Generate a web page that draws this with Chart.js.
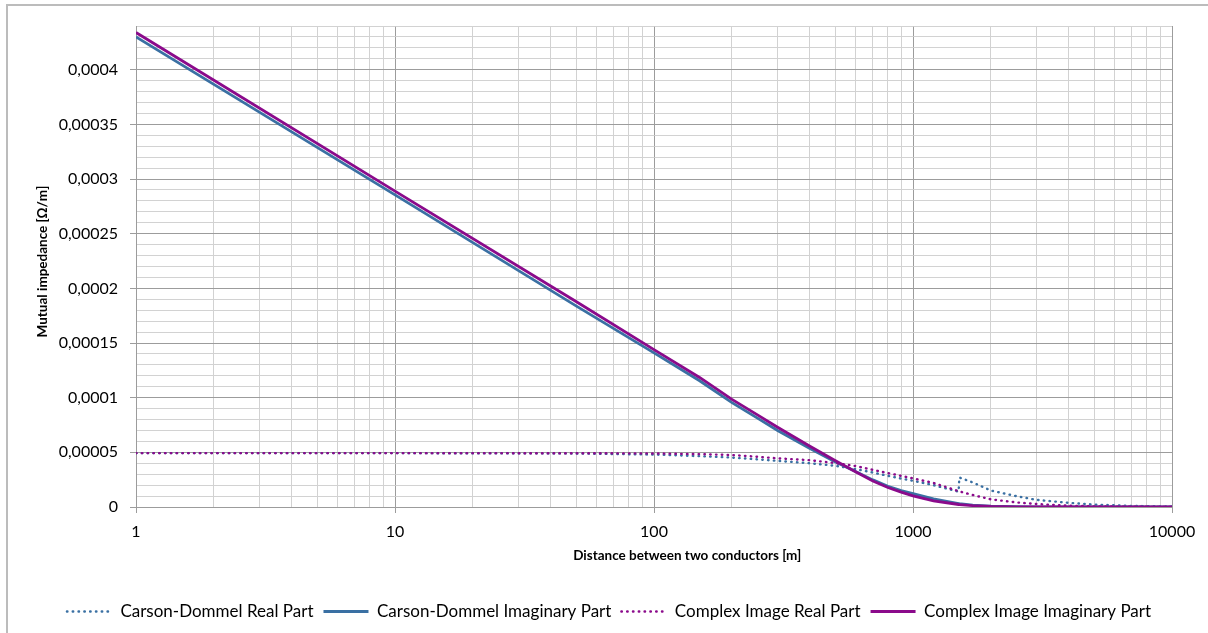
<!DOCTYPE html>
<html>
<head>
<meta charset="utf-8">
<title>Mutual impedance between two conductors</title>
<script src="https://cdn.jsdelivr.net/npm/chart.js@4.4.1/dist/chart.umd.min.js"></script>
<style>
  html, body { margin: 0; padding: 0; background: #fff; }
  #wrap { position: relative; width: 1208px; height: 633px; }
</style>
</head>
<body>
<div id="wrap"><canvas id="impedanceChart"></canvas></div>
<script>
// distance between the conductors [m]
const distances = [1, 10, 50, 100, 150, 200, 250, 300, 400, 500, 600, 700, 800, 900, 1000,
  1200, 1500, 1510, 1700, 2000, 2500, 3000, 4000, 5000, 7000, 10000];

// mutual impedance [ohm/m]
const carsonReal = [4.93e-5, 4.93e-5, 4.90e-5, 4.80e-5, 4.65e-5, 4.52e-5, 4.36e-5, 4.22e-5, 4.0e-5, 3.77e-5,
  3.47e-5, 3.15e-5, 2.85e-5, 2.6e-5, 2.4e-5, 2.0e-5, 1.4e-5, 2.7e-5, 2.25e-5, 1.5e-5,
  1.0e-5, 6.5e-6, 3.8e-6, 2.2e-6, 1.0e-6, 4e-7];
const carsonImag = [4.30e-4, 2.855e-4, 1.84e-4, 1.41e-4, 1.155e-4, 9.55e-5, 8.15e-5, 7.0e-5, 5.35e-5, 4.15e-5,
  3.25e-5, 2.48e-5, 1.9e-5, 1.5e-5, 1.22e-5, 7.5e-6, 3.2e-6, 3.1e-6, 1.8e-6, 8e-7,
  3e-7, 1e-7, 0, 0, 0, 0];
const complexReal = [4.93e-5, 4.93e-5, 4.92e-5, 4.90e-5, 4.84e-5, 4.75e-5, 4.6e-5, 4.45e-5, 4.28e-5, 4.02e-5,
  3.75e-5, 3.4e-5, 3.1e-5, 2.85e-5, 2.62e-5, 2.2e-5, 1.45e-5, 1.43e-5, 1.1e-5, 7e-6,
  4.2e-6, 2.7e-6, 1.2e-6, 6e-7, 2e-7, 1e-7];
const complexImag = [4.34e-4, 2.89e-4, 1.88e-4, 1.44e-4, 1.185e-4, 9.85e-5, 8.45e-5, 7.3e-5, 5.55e-5, 4.25e-5,
  3.22e-5, 2.38e-5, 1.78e-5, 1.36e-5, 1.02e-5, 5.6e-6, 2.3e-6, 2.25e-6, 1.3e-6, 6e-7,
  2e-7, 1e-7, 0, 0, 0, 0];

const seriesNames = ['Carson-Dommel Real Part', 'Carson-Dommel Imaginary Part',
  'Complex Image Real Part', 'Complex Image Imaginary Part'];

const xTickValues = [1, 10, 100, 1000, 10000];
const xTickLabels = ['1', '10', '100', '1000', '10000'];
const yTickLabels = ['0', '0,00005', '0,0001', '0,00015', '0,0002', '0,00025', '0,0003', '0,00035', '0,0004'];
const yMinorCount = 44; // gridlines every 0.00001 up to 0.00044

const BLUE = '#3a70a3';
const PURPLE = '#8b0a8b';
const FONT = 'Lato, "Open Sans", sans-serif';
const MAJOR_GRID = '#9c9c9c';
const MINOR_GRID = '#d2d2d2';

const toPoints = (values) => values.map((v, i) => ({ x: distances[i], y: v }));

// 1..9 in every decade, for the log gridlines
const xGridValues = [];
xTickValues.slice(0, -1).forEach((decade) => {
  for (let m = 1; m < 10; m++) xGridValues.push(m * decade);
});
xGridValues.push(xTickValues[xTickValues.length - 1]);

const dotted = { borderWidth: 2.4, borderDash: [0.5, 5.3], borderCapStyle: 'round' };
const solid = { borderWidth: 2.8, borderDash: [], borderCapStyle: 'butt' };

const frame = {
  id: 'frame',
  beforeDraw(chart) {
    const { ctx, width, height } = chart;
    ctx.save();
    ctx.fillStyle = '#fff';
    ctx.fillRect(0, 0, width, height);
    ctx.strokeStyle = '#bcbcbc';
    ctx.lineWidth = 2;
    ctx.beginPath();
    ctx.moveTo(7, height);
    ctx.lineTo(7, 5);
    ctx.lineTo(width, 5);
    ctx.stroke();
    ctx.restore();
  },
  afterDraw(chart) {
    const { ctx, chartArea } = chart;
    ctx.save();
    ctx.font = 'bold 13.5px ' + FONT;
    ctx.fillStyle = '#000';
    ctx.textAlign = 'center';
    ctx.textBaseline = 'middle';
    // x title sits a little right of the plot centre
    const cx = chartArea.left + (chartArea.right - chartArea.left) * 0.532;
    ctx.fillText('Distance between two conductors [m]', cx, chartArea.bottom + 49);
    ctx.translate(43, (chartArea.top + chartArea.bottom) / 2 - 5);
    ctx.rotate(-Math.PI / 2);
    ctx.fillText('Mutual impedance [Ω/m]', 0, 0);
    ctx.restore();
  }
};

const ctx = document.getElementById('impedanceChart').getContext('2d');
new Chart(ctx, {
  type: 'line',
  data: {
    datasets: [
      { label: seriesNames[0], data: toPoints(carsonReal), borderColor: BLUE, backgroundColor: BLUE, order: 4, ...dotted },
      { label: seriesNames[1], data: toPoints(carsonImag), borderColor: BLUE, backgroundColor: BLUE, order: 3, ...solid },
      { label: seriesNames[2], data: toPoints(complexReal), borderColor: PURPLE, backgroundColor: PURPLE, order: 2, ...dotted },
      { label: seriesNames[3], data: toPoints(complexImag), borderColor: PURPLE, backgroundColor: PURPLE, order: 1, ...solid },
    ],
  },
  options: {
    responsive: true,
    maintainAspectRatio: false,
    animation: false,
    events: [],
    elements: { point: { radius: 0 }, line: { tension: 0, fill: false } },
    layout: { padding: { top: 26, right: 36, bottom: 3, left: 46 } },
    plugins: {
      tooltip: { enabled: false },
      legend: {
        position: 'bottom',
        labels: {
          usePointStyle: true,
          pointStyle: 'line',
          pointStyleWidth: 45,
          padding: 10,
          color: '#000',
          font: { family: FONT, size: 17 },
          sort: (a, b) => a.datasetIndex - b.datasetIndex,
          // the point style carries no dash, so take line looks from the datasets
          generateLabels: (chart) => Chart.defaults.plugins.legend.labels.generateLabels(chart).map((item) => {
            const ds = chart.data.datasets[item.datasetIndex];
            return { ...item, lineDash: ds.borderDash, lineWidth: ds.borderWidth, lineCap: ds.borderCapStyle, strokeStyle: ds.borderColor };
          }),
        },
      },
    },
    scales: {
      x: {
        type: 'logarithmic',
        min: 1,
        max: 10000,
        afterBuildTicks: (scale) => { scale.ticks = xGridValues.map((v) => ({ value: v })); },
        afterFit: (scale) => { scale.height = 86; },
        ticks: {
          autoSkip: false,
          maxRotation: 0,
          padding: 9,
          color: '#000',
          font: { family: FONT, size: 16 },
          callback: (value) => {
            const k = xTickValues.indexOf(value);
            return k >= 0 ? xTickLabels[k] : '';
          },
        },
        grid: {
          color: (c) => (xTickValues.includes(c.tick.value) ? MAJOR_GRID : MINOR_GRID),
          tickColor: (c) => (xTickValues.includes(c.tick.value) ? MAJOR_GRID : 'transparent'),
          tickLength: 6,
        },
        border: { color: MAJOR_GRID },
      },
      y: {
        type: 'linear',
        min: 0,
        max: yMinorCount / 100000,
        afterBuildTicks: (scale) => {
          scale.ticks = Array.from({ length: yMinorCount + 1 }, (_, i) => ({ value: i / 100000 }));
        },
        afterFit: (scale) => { scale.width = 90; },
        ticks: {
          autoSkip: false,
          padding: 12,
          color: '#000',
          font: { family: FONT, size: 16 },
          callback: (value, index) => (index % 5 === 0 ? yTickLabels[index / 5] : ''),
        },
        grid: {
          color: (c) => (c.index % 5 === 0 ? MAJOR_GRID : MINOR_GRID),
          tickColor: (c) => (c.index % 5 === 0 ? MAJOR_GRID : 'transparent'),
          tickLength: 6,
        },
        border: { color: MAJOR_GRID },
      },
    },
  },
  plugins: [frame],
});
</script>
</body>
</html>
